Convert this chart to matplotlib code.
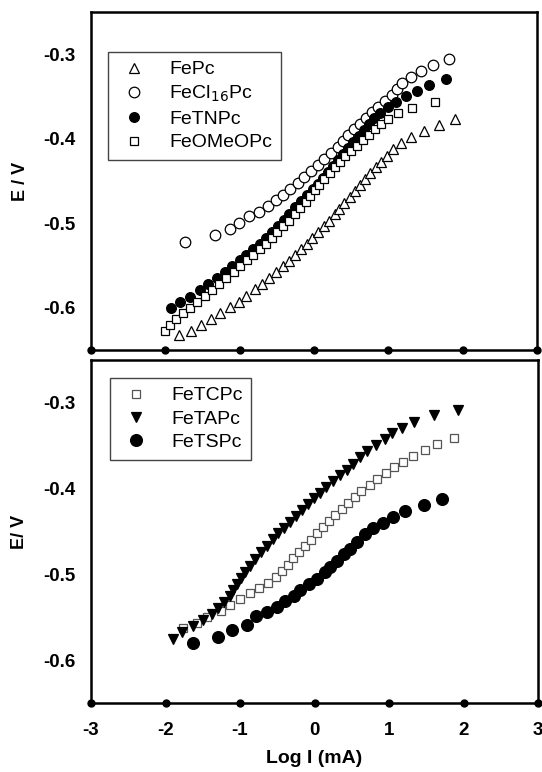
import matplotlib
matplotlib.use("Agg")
import matplotlib.pyplot as plt

plt.rcParams['font.family'] = ['Liberation Sans', 'DejaVu Sans']

# ---------------- data: top panel ----------------
fepc_x = [-1.81, -1.66, -1.52, -1.39, -1.26, -1.13, -1.01, -0.91, -0.80, -0.70,
          -0.60, -0.51, -0.42, -0.33, -0.25, -0.17, -0.10, -0.03, 0.05, 0.13,
          0.20, 0.28, 0.34, 0.41, 0.48, 0.55, 0.62, 0.69, 0.76, 0.83,
          0.90, 0.98, 1.06, 1.17, 1.31, 1.48, 1.68, 1.90]
fepc_y = [-0.632, -0.627, -0.620, -0.613, -0.606, -0.599, -0.593, -0.586, -0.578, -0.572,
          -0.565, -0.558, -0.551, -0.545, -0.538, -0.531, -0.524, -0.517, -0.510, -0.503,
          -0.497, -0.489, -0.483, -0.476, -0.469, -0.462, -0.455, -0.448, -0.441, -0.434,
          -0.427, -0.420, -0.412, -0.405, -0.398, -0.391, -0.384, -0.377]

fecl_x = [-1.73, -1.33, -1.13, -1.01, -0.87, -0.74, -0.62, -0.51, -0.42, -0.32,
          -0.22, -0.13, -0.04, 0.06, 0.14, 0.23, 0.32, 0.39, 0.46, 0.54,
          0.62, 0.70, 0.78, 0.86, 0.95, 1.05, 1.11, 1.19, 1.30, 1.44,
          1.60, 1.82]
fecl_y = [-0.522, -0.514, -0.507, -0.500, -0.492, -0.487, -0.480, -0.473, -0.466, -0.459,
          -0.452, -0.445, -0.438, -0.431, -0.424, -0.417, -0.410, -0.403, -0.396, -0.389,
          -0.382, -0.375, -0.368, -0.362, -0.355, -0.348, -0.341, -0.334, -0.327, -0.320,
          -0.313, -0.306]

fetn_x = [-1.93, -1.80, -1.67, -1.54, -1.42, -1.31, -1.20, -1.10, -1.00, -0.91,
          -0.82, -0.73, -0.64, -0.56, -0.49, -0.41, -0.33, -0.25, -0.17, -0.09,
          -0.02, 0.05, 0.12, 0.19, 0.26, 0.32, 0.39, 0.46, 0.53, 0.60,
          0.67, 0.74, 0.81, 0.89, 0.99, 1.10, 1.24, 1.38, 1.55, 1.78]
fetn_y = [-0.600, -0.593, -0.587, -0.579, -0.572, -0.565, -0.558, -0.551, -0.544, -0.538,
          -0.531, -0.524, -0.517, -0.510, -0.503, -0.496, -0.489, -0.481, -0.474, -0.467,
          -0.460, -0.453, -0.446, -0.439, -0.432, -0.425, -0.418, -0.411, -0.404, -0.397,
          -0.390, -0.383, -0.376, -0.370, -0.363, -0.356, -0.349, -0.343, -0.336, -0.329]

feome_x = [-2.01, -1.94, -1.86, -1.76, -1.67, -1.57, -1.47, -1.37, -1.28, -1.18,
           -1.08, -0.99, -0.90, -0.82, -0.73, -0.65, -0.57, -0.50, -0.42, -0.34,
           -0.26, -0.19, -0.11, -0.06, 0.01, 0.07, 0.14, 0.21, 0.28, 0.35,
           0.42, 0.50, 0.58, 0.66, 0.74, 0.82, 0.90, 0.99, 1.13, 1.32, 1.63]
feome_y = [-0.628, -0.621, -0.613, -0.606, -0.600, -0.593, -0.586, -0.579, -0.572, -0.565,
           -0.558, -0.551, -0.544, -0.537, -0.531, -0.524, -0.517, -0.510, -0.503, -0.497,
           -0.489, -0.482, -0.475, -0.468, -0.461, -0.455, -0.448, -0.441, -0.434, -0.428,
           -0.421, -0.414, -0.408, -0.401, -0.395, -0.389, -0.383, -0.377, -0.370, -0.364, -0.357]

# ---------------- data: bottom panel ----------------
fetcp_x = [-1.77, -1.58, -1.44, -1.26, -1.13, -1.00, -0.87, -0.75, -0.62, -0.52,
           -0.43, -0.36, -0.29, -0.21, -0.13, -0.05, 0.03, 0.11, 0.19, 0.28,
           0.37, 0.45, 0.54, 0.63, 0.74, 0.84, 0.96, 1.07, 1.19, 1.32,
           1.48, 1.65, 1.87]
fetcp_y = [-0.563, -0.557, -0.550, -0.543, -0.536, -0.529, -0.522, -0.516, -0.510, -0.503,
           -0.496, -0.489, -0.481, -0.474, -0.467, -0.460, -0.452, -0.445, -0.438, -0.431,
           -0.424, -0.417, -0.410, -0.403, -0.396, -0.389, -0.382, -0.375, -0.369, -0.362,
           -0.355, -0.348, -0.341]

fetap_x = [-1.90, -1.78, -1.63, -1.49, -1.37, -1.29, -1.21, -1.13, -1.09, -1.04,
           -0.98, -0.93, -0.87, -0.80, -0.72, -0.64, -0.56, -0.49, -0.41, -0.33,
           -0.25, -0.17, -0.09, -0.01, 0.07, 0.16, 0.25, 0.34, 0.43, 0.52,
           0.61, 0.71, 0.83, 0.94, 1.04, 1.17, 1.33, 1.60, 1.92]
fetap_y = [-0.575, -0.567, -0.560, -0.553, -0.546, -0.539, -0.532, -0.525, -0.518, -0.511,
           -0.504, -0.497, -0.490, -0.482, -0.474, -0.467, -0.459, -0.452, -0.446, -0.439,
           -0.432, -0.425, -0.418, -0.411, -0.405, -0.398, -0.391, -0.384, -0.378, -0.371,
           -0.363, -0.356, -0.349, -0.342, -0.335, -0.329, -0.322, -0.314, -0.308]

fetsp_x = [-1.63, -1.30, -1.11, -0.91, -0.78, -0.64, -0.51, -0.40, -0.28, -0.19,
           -0.07, 0.04, 0.14, 0.21, 0.30, 0.39, 0.47, 0.57, 0.68, 0.79,
           0.92, 1.06, 1.22, 1.47, 1.71]
fetsp_y = [-0.580, -0.573, -0.565, -0.559, -0.548, -0.544, -0.538, -0.531, -0.525, -0.518,
           -0.511, -0.505, -0.497, -0.491, -0.484, -0.476, -0.470, -0.462, -0.453, -0.446,
           -0.440, -0.433, -0.426, -0.419, -0.412]

xticks = [-3, -2, -1, 0, 1, 2, 3]
yticks = [-0.6, -0.5, -0.4, -0.3]
yticklabels = ['-0.6', '-0.5', '-0.4', '-0.3']
xlim = (-3, 3)
ylim = (-0.65, -0.25)

W, H = 542, 772
fig = plt.figure(figsize=(W / 100, H / 100), dpi=100)

def frac(l, t, r, b):
    return [l / W, 1 - b / H, (r - l) / W, (b - t) / H]

ax1 = fig.add_axes(frac(91, 12, 537, 350))
ax2 = fig.add_axes(frac(91, 360, 538, 703))

ms = 7.0
mew = 0.9
ax1.plot(fepc_x, fepc_y, linestyle='none', marker='^', ms=ms, mfc='white', mec='black', mew=mew, label='FePc')
ax1.plot(fecl_x, fecl_y, linestyle='none', marker='o', ms=ms + 0.6, mfc='white', mec='black', mew=mew, label='FeCl$_{16}$Pc')
ax1.plot(fetn_x, fetn_y, linestyle='none', marker='o', ms=ms, mfc='black', mec='black', mew=mew, label='FeTNPc')
ax1.plot(feome_x, feome_y, linestyle='none', marker='s', ms=ms - 0.6, mfc='white', mec='black', mew=mew, label='FeOMeOPc')

ax2.plot(fetcp_x, fetcp_y, linestyle='none', marker='s', ms=ms - 1.0, mfc='white', mec='#555555', mew=mew, label='FeTCPc')
ax2.plot(fetap_x, fetap_y, linestyle='none', marker='v', ms=ms, mfc='black', mec='black', mew=mew, label='FeTAPc')
ax2.plot(fetsp_x, fetsp_y, linestyle='none', marker='o', ms=ms + 1.5, mfc='black', mec='black', mew=mew, label='FeTSPc')

for ax in (ax1, ax2):
    ax.set_xlim(*xlim)
    ax.set_ylim(*ylim)
    ax.set_xticks(xticks)
    ax.set_yticks(yticks)
    ax.set_yticklabels(yticklabels)
    ax.tick_params(axis='both', length=0, labelsize=13.5)
    ax.tick_params(axis='y', pad=11)
    ax.tick_params(axis='x', pad=14)
    for lab in ax.get_xticklabels() + ax.get_yticklabels():
        lab.set_fontweight('bold')
    for s in ax.spines.values():
        s.set_linewidth(1.8)
        s.set_color('black')
    # dot tick marks on the bottom axis
    ax.plot(xticks, [ylim[0]] * len(xticks), linestyle='none', marker='o', ms=5,
            color='black', clip_on=False, zorder=5)

ax1.set_xticklabels([])
ax2.set_xticklabels([str(t) for t in xticks])
for lab in ax2.get_xticklabels():
    lab.set_fontweight('bold')

ax1.set_ylabel('E / V', fontsize=13, fontweight='bold')
ax2.set_ylabel('E/ V', fontsize=13, fontweight='bold')
for ax in (ax1, ax2):
    ax.yaxis.set_label_coords(-0.14, 0.5)
ax2.set_xlabel('Log I (mA)', fontsize=14, fontweight='bold')
ax2.xaxis.set_label_coords(0.5, -0.138)

leg_kw = dict(frameon=True, fancybox=False, framealpha=1, edgecolor='#444444',
              fontsize=14, handletextpad=0.9, handlelength=1.8, borderpad=0.45,
              labelspacing=0.3, borderaxespad=0)
l1 = ax1.legend(loc='upper left', bbox_to_anchor=((108 - 91) / 446, (350 - 52) / 338), **leg_kw)
l2 = ax2.legend(loc='upper left', bbox_to_anchor=((110 - 91) / 447, (703 - 378) / 343), **leg_kw)
for l in (l1, l2):
    l.get_frame().set_linewidth(1.0)

fig.savefig('out.png', dpi=100)
